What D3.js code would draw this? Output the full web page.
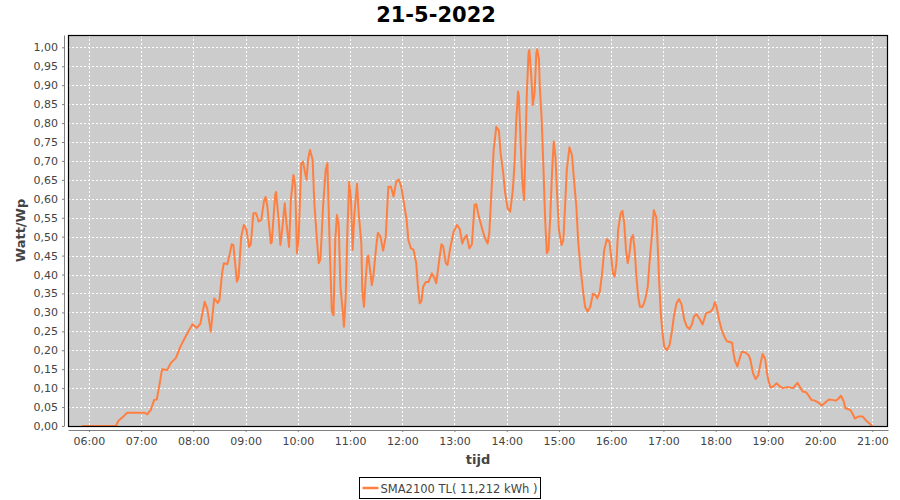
<!DOCTYPE html>
<html>
<head>
<meta charset="utf-8">
<script src="https://cdn.jsdelivr.net/npm/d3@7"></script>
<style>
    body { margin: 0; background: #fff; }
    text { font-family: "DejaVu Sans", sans-serif; }
</style>
</head>
<body>
<div id="chart" style="width:900px;height:500px"></div>
<script>
const title = "21-5-2022";
const xLabel = "tijd";
const yLabel = "Watt/Wp";
const seriesName = "SMA2100 TL( 11,212 kWh )";

const xTicks = ["06:00", "07:00", "08:00", "09:00", "10:00", "11:00", "12:00", "13:00",
                "14:00", "15:00", "16:00", "17:00", "18:00", "19:00", "20:00", "21:00"];
const yTicks = [0, 0.05, 0.10, 0.15, 0.20, 0.25, 0.30, 0.35, 0.40, 0.45, 0.50,
                0.55, 0.60, 0.65, 0.70, 0.75, 0.80, 0.85, 0.90, 0.95, 1.00];

// measurement times and watt per Wp
const times = [
    "05:52", "06:31", "06:34", "06:40", "06:44", "07:04", "07:07", "07:11", "07:15", "07:18",
    "07:22", "07:24", "07:30", "07:34", "07:40", "07:45", "07:49", "07:55", "07:59", "08:04",
    "08:08", "08:13", "08:16", "08:20", "08:24", "08:28", "08:30", "08:33", "08:35", "08:39",
    "08:42", "08:44", "08:46", "08:50", "08:52", "08:55", "08:58", "09:01", "09:04", "09:06",
    "09:09", "09:12", "09:15", "09:18", "09:21", "09:23", "09:25", "09:29", "09:30", "09:34",
    "09:35", "09:38", "09:40", "09:42", "09:45", "09:47", "09:50", "09:52", "09:55", "09:57",
    "09:59", "10:01", "10:04", "10:06", "10:08", "10:10", "10:12", "10:14", "10:17", "10:19",
    "10:22", "10:24", "10:26", "10:29", "10:32", "10:34", "10:35", "10:37", "10:39", "10:41",
    "10:43", "10:45", "10:47", "10:49", "10:52", "10:53", "10:55", "10:57", "10:59", "11:01",
    "11:03", "11:05", "11:08", "11:10", "11:13", "11:14", "11:16", "11:18", "11:20", "11:21",
    "11:23", "11:25", "11:27", "11:30", "11:32", "11:35", "11:38", "11:41", "11:43", "11:44",
    "11:47", "11:50", "11:53", "11:56", "11:59", "12:02", "12:05", "12:07", "12:10", "12:13",
    "12:16", "12:18", "12:20", "12:22", "12:24", "12:27", "12:30", "12:34", "12:37", "12:39",
    "12:42", "12:45", "12:47", "12:50", "12:52", "12:55", "12:59", "13:03", "13:06", "13:09",
    "13:11", "13:14", "13:17", "13:20", "13:23", "13:25", "13:28", "13:32", "13:35", "13:38",
    "13:40", "13:42", "13:45", "13:48", "13:51", "13:53", "13:56", "13:58", "14:01", "14:04",
    "14:07", "14:09", "14:11", "14:13", "14:14", "14:16", "14:18", "14:20", "14:21", "14:23",
    "14:25", "14:26", "14:28", "14:29", "14:30", "14:32", "14:34", "14:35", "14:37", "14:38",
    "14:40", "14:42", "14:44", "14:46", "14:48", "14:50", "14:52", "14:54", "14:56", "14:58",
    "15:00", "15:03", "15:05", "15:07", "15:09", "15:12", "15:15", "15:17", "15:20", "15:22",
    "15:25", "15:28", "15:30", "15:33", "15:36", "15:39", "15:42", "15:44", "15:47", "15:50",
    "15:52", "15:55", "15:58", "16:00", "16:02", "16:04", "16:06", "16:08", "16:11", "16:13",
    "16:15", "16:17", "16:19", "16:21", "16:23", "16:25", "16:27", "16:29", "16:31", "16:33",
    "16:36", "16:39", "16:42", "16:44", "16:47", "16:49", "16:52", "16:54", "16:55", "16:57",
    "16:59", "17:01", "17:04", "17:07", "17:10", "17:12", "17:15", "17:18", "17:21", "17:24",
    "17:27", "17:30", "17:33", "17:35", "17:38", "17:41", "17:45", "17:49", "17:54", "17:57",
    "17:59", "18:01", "18:04", "18:07", "18:10", "18:13", "18:19", "18:20", "18:22", "18:25",
    "18:27", "18:30", "18:34", "18:38", "18:40", "18:43", "18:46", "18:49", "18:52", "18:54",
    "18:57", "18:59", "19:01", "19:03", "19:06", "19:10", "19:13", "19:17", "19:21", "19:25",
    "19:29", "19:31", "19:34", "19:37", "19:40", "19:44", "19:46", "19:50", "19:54", "19:58",
    "20:02", "20:06", "20:10", "20:14", "20:18", "20:21", "20:24", "20:27", "20:29", "20:32",
    "20:35", "20:38", "20:40", "20:44", "20:49", "20:53", "21:00"
];
const watts = [
    0, 0, 0.014, 0.026, 0.035, 0.035, 0.031, 0.042, 0.069, 0.070,
    0.121, 0.150, 0.148, 0.166, 0.180, 0.209, 0.227, 0.253, 0.269, 0.259,
    0.270, 0.328, 0.310, 0.249, 0.337, 0.325, 0.333, 0.403, 0.430, 0.427,
    0.456, 0.480, 0.478, 0.381, 0.394, 0.500, 0.531, 0.518, 0.473, 0.480,
    0.562, 0.562, 0.540, 0.544, 0.592, 0.605, 0.580, 0.482, 0.485, 0.610,
    0.618, 0.544, 0.478, 0.518, 0.588, 0.535, 0.473, 0.597, 0.663, 0.635,
    0.456, 0.500, 0.694, 0.698, 0.672, 0.650, 0.707, 0.729, 0.703, 0.588,
    0.491, 0.430, 0.440, 0.579, 0.676, 0.694, 0.610, 0.447, 0.306, 0.292,
    0.491, 0.557, 0.530, 0.368, 0.293, 0.262, 0.340, 0.518, 0.645, 0.600,
    0.465, 0.560, 0.640, 0.560, 0.482, 0.359, 0.315, 0.390, 0.447, 0.450,
    0.412, 0.372, 0.400, 0.473, 0.510, 0.500, 0.463, 0.500, 0.588, 0.632,
    0.632, 0.606, 0.645, 0.651, 0.630, 0.588, 0.544, 0.491, 0.469, 0.465,
    0.430, 0.368, 0.324, 0.330, 0.368, 0.380, 0.380, 0.403, 0.390, 0.377,
    0.430, 0.480, 0.475, 0.430, 0.425, 0.469, 0.513, 0.531, 0.520, 0.482,
    0.494, 0.504, 0.469, 0.480, 0.584, 0.586, 0.553, 0.519, 0.496, 0.482,
    0.509, 0.597, 0.729, 0.790, 0.780, 0.720, 0.667, 0.619, 0.575, 0.566,
    0.623, 0.694, 0.808, 0.883, 0.870, 0.746, 0.641, 0.597, 0.690, 0.870,
    0.984, 0.993, 0.931, 0.890, 0.848, 0.880, 0.984, 0.995, 0.970, 0.896,
    0.817, 0.694, 0.553, 0.456, 0.465, 0.553, 0.667, 0.751, 0.710, 0.606,
    0.518, 0.478, 0.490, 0.579, 0.676, 0.736, 0.715, 0.658, 0.579, 0.491,
    0.412, 0.350, 0.315, 0.302, 0.315, 0.349, 0.346, 0.337, 0.355, 0.412,
    0.465, 0.493, 0.487, 0.447, 0.403, 0.395, 0.430, 0.518, 0.562, 0.568,
    0.535, 0.465, 0.430, 0.455, 0.496, 0.504, 0.465, 0.394, 0.341, 0.315,
    0.315, 0.333, 0.368, 0.430, 0.509, 0.570, 0.550, 0.447, 0.386, 0.298,
    0.245, 0.209, 0.200, 0.213, 0.253, 0.289, 0.324, 0.335, 0.320, 0.280,
    0.262, 0.256, 0.270, 0.289, 0.295, 0.285, 0.268, 0.298, 0.302, 0.310,
    0.327, 0.315, 0.280, 0.253, 0.236, 0.224, 0.220, 0.200, 0.174, 0.157,
    0.174, 0.196, 0.194, 0.187, 0.174, 0.139, 0.124, 0.134, 0.170, 0.190,
    0.176, 0.139, 0.117, 0.102, 0.104, 0.113, 0.106, 0.100, 0.102, 0.102,
    0.100, 0.106, 0.114, 0.102, 0.091, 0.089, 0.083, 0.069, 0.067, 0.062,
    0.054, 0.062, 0.070, 0.069, 0.067, 0.072, 0.080, 0.066, 0.047, 0.045,
    0.042, 0.029, 0.020, 0.025, 0.025, 0.014, 0
];

const parseTime = d3.timeParse("%H:%M");
const nl = d3.formatLocale({decimal: ",", thousands: ".", grouping: [3], currency: ["€", ""]});
const fmt = nl.format(".2f");

const W = 900, H = 500;
const plot = {left: 68, top: 35, right: 888, bottom: 426};

const svg = d3.select("#chart")
    .append("svg")
    .attr("width", W)
    .attr("height", H);

const data = times.map((t, i) => ({t: parseTime(t), v: watts[i]}));

let x = d3.scaleTime()
    .domain([parseTime("05:36"), parseTime("21:18")])
    .range([plot.left, plot.right]);

let y = d3.scaleLinear()
    .domain([0, 1.0325])
    .range([plot.bottom, plot.top]);

// plot background
svg.append("rect")
    .attr("x", plot.left)
    .attr("y", plot.top)
    .attr("width", plot.right - plot.left)
    .attr("height", plot.bottom - plot.top)
    .attr("fill", "#cccccc");

// grid
const grid = svg.append("g")
    .attr("stroke", "#ffffff")
    .attr("stroke-width", 1)
    .attr("stroke-dasharray", "2,2")
    .attr("shape-rendering", "crispEdges");

grid.selectAll(".vx")
    .data(xTicks)
    .enter().append("line")
    .attr("x1", d => Math.round(x(parseTime(d))) + 0.5)
    .attr("x2", d => Math.round(x(parseTime(d))) + 0.5)
    .attr("y1", plot.top)
    .attr("y2", plot.bottom);

grid.selectAll(".hy")
    .data(yTicks)
    .enter().append("line")
    .attr("y1", d => Math.round(y(d)) + 0.5)
    .attr("y2", d => Math.round(y(d)) + 0.5)
    .attr("x1", plot.left)
    .attr("x2", plot.right);

// series
const line = d3.line()
    .x(d => x(d.t))
    .y(d => y(d.v));

svg.append("path")
    .datum(data)
    .attr("d", line)
    .attr("fill", "none")
    .attr("stroke", "#ff7f40")
    .attr("stroke-width", 2)
    .attr("stroke-linejoin", "round");

// plot border
svg.append("rect")
    .attr("x", plot.left + 0.5)
    .attr("y", plot.top + 0.5)
    .attr("width", plot.right - plot.left - 1)
    .attr("height", plot.bottom - plot.top)
    .attr("fill", "none")
    .attr("stroke", "#000")
    .attr("stroke-width", 1.2);

// axes, offset from the plot like the original
const yAxis = svg.append("g")
    .attr("transform", "translate(" + (plot.left - 4) + ",0)")
    .call(d3.axisLeft(y).tickValues(yTicks).tickFormat(fmt).tickSizeInner(2).tickSizeOuter(0).tickPadding(4));

const xAxis = svg.append("g")
    .attr("transform", "translate(0," + (plot.bottom + 4) + ")")
    .call(d3.axisBottom(x).tickValues(xTicks.map(parseTime)).tickFormat(d3.timeFormat("%H:%M"))
        .tickSizeInner(2).tickSizeOuter(0).tickPadding(5));

[xAxis, yAxis].forEach(a => {
    a.select(".domain").attr("stroke", "#808080");
    a.selectAll(".tick line").attr("stroke", "#808080");
    a.selectAll(".tick text")
        .attr("fill", "#444")
        .style("font-size", "11px")
        .style("font-family", "'DejaVu Sans', sans-serif");
});

// titles
svg.append("text")
    .attr("x", 436)
    .attr("y", 22)
    .attr("text-anchor", "middle")
    .style("font-size", "21px")
    .style("font-weight", "bold")
    .text(title);

svg.append("text")
    .attr("x", (plot.left + plot.right) / 2)
    .attr("y", 464)
    .attr("text-anchor", "middle")
    .attr("fill", "#444")
    .style("font-size", "13px")
    .style("font-weight", "bold")
    .text(xLabel);

svg.append("text")
    .attr("transform", "translate(25," + ((plot.top + plot.bottom) / 2) + ") rotate(-90)")
    .attr("text-anchor", "middle")
    .attr("fill", "#444")
    .style("font-size", "13px")
    .style("font-weight", "bold")
    .text(yLabel);

// legend
const legend = svg.append("g").attr("transform", "translate(359.5,477.5)");

legend.append("rect")
    .attr("width", 181)
    .attr("height", 21)
    .attr("fill", "#fff")
    .attr("stroke", "#000");

legend.append("line")
    .attr("x1", 3)
    .attr("x2", 19)
    .attr("y1", 10.5)
    .attr("y2", 10.5)
    .attr("stroke", "#ff7f40")
    .attr("stroke-width", 2.5);

legend.append("text")
    .attr("x", 21)
    .attr("y", 15)
    .attr("fill", "#444")
    .style("font-size", "11.5px")
    .text(seriesName);
</script>
</body>
</html>
